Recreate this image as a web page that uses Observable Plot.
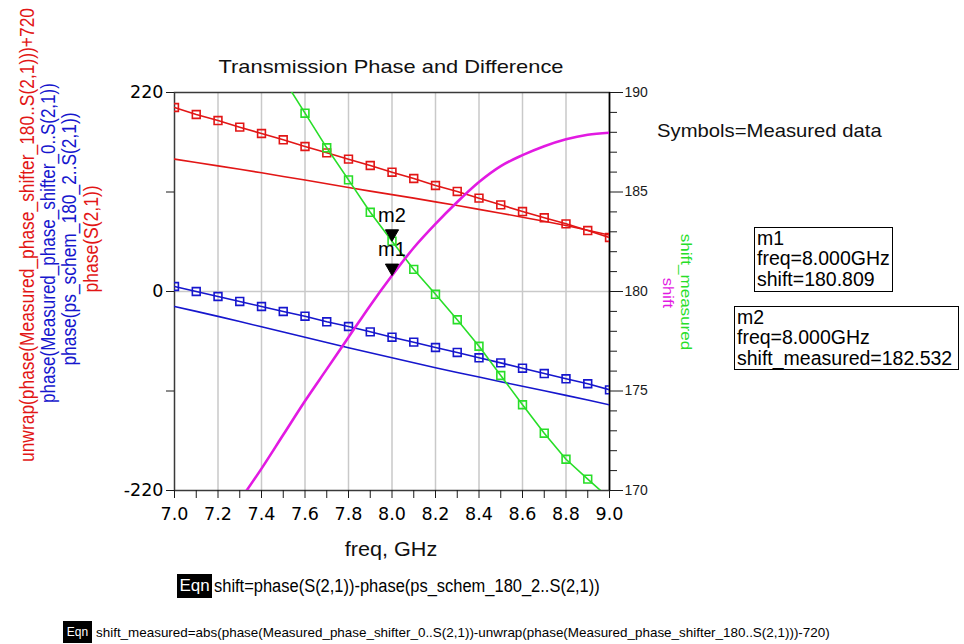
<!DOCTYPE html>
<html>
<head>
<meta charset="utf-8">
<script src="https://cdn.jsdelivr.net/npm/d3@7"></script>
<script src="https://cdn.jsdelivr.net/npm/@observablehq/plot@0.6"></script>
<style>
  html, body { margin: 0; padding: 0; background: #fff; }
  #wrap { position: relative; width: 964px; height: 644px; overflow: hidden; font-family: "Liberation Sans", Arial, sans-serif; }
  #wrap svg { position: absolute; left: 0; top: 0; }
  .lbl { position: absolute; white-space: nowrap; line-height: 1; }
  .box { position: absolute; border: 1px solid #000; background: #fff; font-size: 19.5px; line-height: 20.3px; padding-left: 2px; box-sizing: border-box; color: #000; }
  .eqn { position: absolute; background: #000; color: #fff; text-align: center; overflow: hidden; }
</style>
</head>
<body>
<div id="wrap"></div>
<script>
// ---------- data ----------
const freq = [7.0, 7.1, 7.2, 7.3, 7.4, 7.5, 7.6, 7.7, 7.8, 7.9, 8.0, 8.1, 8.2, 8.3, 8.4, 8.5, 8.6, 8.7, 8.8, 8.9, 9.0];
// unwrap(phase(Measured_phase_shifter_180..S(2,1)))+720  (red, symbols)
const measured180 = [203.4, 195.7, 189.0, 181.7, 174.7, 167.7, 160.3, 153.3, 146.3, 139.3, 131.9, 124.9, 117.2, 110.6, 103.2, 95.8, 88.4, 81.5, 74.8, 67.4, 59.7];
// phase(S(2,1))  (red line)
const simS21 = [146.3, 142.6, 138.9, 135.1, 131.2, 127.2, 123.2, 119.2, 115.0, 111.0, 107.1, 103.2, 99.1, 95.0, 90.8, 86.6, 82.1, 77.6, 73.0, 67.8, 62.3];
// phase(Measured_phase_shifter_0..S(2,1))  (blue, symbols)
const measured0 = [5.5, 0.0, -5.5, -11.0, -16.6, -22.1, -27.3, -33.5, -38.7, -44.6, -50.5, -56.0, -61.9, -67.4, -73.3, -78.9, -84.8, -90.7, -96.5, -102.0, -108.7];
// phase(ps_schem_180_2..S(2,1))  (blue line)
const simSchem = [-16.6, -22.0, -27.5, -33.2, -39.0, -44.8, -50.6, -56.4, -62.1, -67.8, -73.3, -78.8, -84.2, -89.5, -94.6, -99.7, -104.8, -109.8, -114.8, -120.0, -125.3];
// shift_measured (green, right axis, symbols)
const shiftMeasFreq = [7.5, 7.6, 7.7, 7.8, 7.9, 8.0, 8.1, 8.2, 8.3, 8.4, 8.5, 8.6, 8.7, 8.8, 8.9, 9.0];
const shiftMeasured = [190.7, 188.96, 187.22, 185.61, 183.98, 182.53, 181.11, 179.86, 178.58, 177.25, 175.78, 174.31, 172.88, 171.57, 170.57, 169.6];
// shift (magenta, right axis)
const shiftFreq = [7.3, 7.4, 7.5, 7.6, 7.7, 7.8, 7.9, 8.0, 8.1, 8.2, 8.3, 8.4, 8.5, 8.6, 8.7, 8.8, 8.9, 9.0];
const shift = [169.5, 171.1, 172.8, 174.5, 176.1, 177.7, 179.3, 180.8, 182.2, 183.4, 184.5, 185.5, 186.3, 186.85, 187.3, 187.65, 187.88, 187.98];
// markers
const markerNames = ["m1", "m2"];
const markerFreq = [8.0, 8.0];
const markerValue = [180.809, 182.532];
const markerSeries = ["shift", "shift_measured"];
// ticks
const leftTicks = [-220, -110, 0, 110, 220];
const leftTickLabels = ["-220", "", "0", "", "220"];
const rightMajorTicks = [170, 175, 180, 185, 190];
const rightMinorTicks = [171, 172, 173, 174, 176, 177, 178, 179, 181, 182, 183, 184, 186, 187, 188, 189];
const xMinorTicks = [7.1, 7.3, 7.5, 7.7, 7.9, 8.1, 8.3, 8.5, 8.7, 8.9];
const xMajorTicks = [7.0, 7.2, 7.4, 7.6, 7.8, 8.0, 8.2, 8.4, 8.6, 8.8, 9.0];
const xGrid = [7.2, 7.4, 7.6, 7.8, 8.0, 8.2, 8.4, 8.6, 8.8];

// ---------- colours ----------
const RED = "rgb(226,22,22)", BLUE = "rgb(22,22,205)", GREEN = "rgb(40,222,40)", MAG = "rgb(226,26,226)";

// right axis (170..190) mapped onto left scale (-220..220)
const R = v => (v - 180) * 22;
const Rinv = y => y / 22 + 180;

const left = freq.map((f, i) => ({f, m180: measured180[i], s21: simS21[i], m0: measured0[i], sch: simSchem[i]}));
const green = shiftMeasFreq.map((f, i) => ({f, v: R(shiftMeasured[i])}));
const mag = shiftFreq.map((f, i) => ({f, v: R(shift[i])}));
const markers = markerNames.map((n, i) => ({n, f: markerFreq[i], v: R(markerValue[i]), s: markerSeries[i]}));

const TICKFONT = "'DejaVu Sans', 'Liberation Sans', sans-serif";

const chart = Plot.plot({
  width: 964, height: 644,
  marginLeft: 174, marginRight: 355, marginTop: 92, marginBottom: 154,
  x: {type: "linear", domain: [7.0, 9.0]},
  y: {type: "linear", domain: [-220, 220]},
  style: {fontFamily: "'Liberation Sans', Arial, sans-serif", color: "#1a1a1a", background: "transparent", overflow: "visible"},
  marks: [
    Plot.gridX(xGrid, {stroke: "#c9c9c9", strokeOpacity: 1, strokeWidth: 1.5}),
    Plot.ruleY([0], {stroke: "#c9c9c9", strokeWidth: 1.5}),
    Plot.frame({stroke: "#3a3a3a", strokeWidth: 1.5}),
    Plot.ruleX([9.0], {stroke: "#000", strokeWidth: 1.5}),
    Plot.axisY(leftTicks, {anchor: "left", tickSize: 8, tickPadding: 3, fontSize: 17.5, fontFamily: TICKFONT, fill: "#000", label: null,
      tickFormat: d => leftTickLabels[leftTicks.indexOf(d)]}),
    Plot.axisY(rightMajorTicks.map(R), {anchor: "right", tickSize: 13, tickPadding: 2, fontSize: 14, label: null,
      tickFormat: d => String(Math.round(Rinv(d)))}),
    Plot.axisY(rightMinorTicks.map(R), {anchor: "right", tickSize: 7, label: null, tickFormat: () => ""}),
    Plot.axisX(xMinorTicks, {anchor: "bottom", tickSize: 8, label: null, tickFormat: () => ""}),
    Plot.axisX(xMajorTicks, {anchor: "bottom", tickSize: 8, tickPadding: 9, fontSize: 17.5, fontFamily: TICKFONT, fill: "#000", label: null,
      tickFormat: d => d.toFixed(1)}),
    // simulated lines
    Plot.line(left, {x: "f", y: "s21", stroke: RED, strokeWidth: 1.6, clip: true}),
    Plot.line(left, {x: "f", y: "sch", stroke: BLUE, strokeWidth: 1.6, clip: true}),
    // measured with symbols
    Plot.line(left, {x: "f", y: "m180", stroke: RED, strokeWidth: 1.6, clip: true}),
    Plot.dot(left, {x: "f", y: "m180", symbol: "square", r: 4.4, stroke: RED, strokeWidth: 1.6, fill: "none", clip: true}),
    Plot.line(left, {x: "f", y: "m0", stroke: BLUE, strokeWidth: 1.6, clip: true}),
    Plot.dot(left, {x: "f", y: "m0", symbol: "square", r: 4.4, stroke: BLUE, strokeWidth: 1.6, fill: "none", clip: true}),
    Plot.line(green, {x: "f", y: "v", stroke: GREEN, strokeWidth: 1.6, clip: true}),
    Plot.dot(green, {x: "f", y: "v", symbol: "square", r: 4.4, stroke: GREEN, strokeWidth: 1.6, fill: "none", clip: true}),
    Plot.line(mag, {x: "f", y: "v", stroke: MAG, strokeWidth: 2.6, curve: "monotone-x", clip: true}),
    // markers
    Plot.dot(markers, {x: "f", y: "v", symbol: "triangle", rotate: 180, r: 4.9, fill: "#000", stroke: "#000", strokeWidth: 1, dy: -7.5}),
    Plot.text(markers, {x: "f", y: "v", text: "n", dy: -26, fontSize: 20, fill: "#000"})
  ]
});

const wrap = document.getElementById("wrap");
wrap.appendChild(chart);

// ---------- text annotations ----------
function place(text, o) {
  const el = document.createElement("div");
  el.className = "lbl";
  el.textContent = text;
  el.style.fontSize = o.size + "px";
  el.style.color = o.color || "#111";
  el.style.left = o.x + "px";
  el.style.top = o.y + "px";
  wrap.appendChild(el);
  const s = o.w ? o.w / el.offsetWidth : 1;
  if (o.anchor === "start") {
    el.style.transformOrigin = "0 50%";
    el.style.transform = `translate(0,-50%) scaleX(${s})`;
  } else {
    el.style.transform = `translate(-50%,-50%) rotate(${o.rot || 0}deg) scaleX(${s})`;
  }
  return el;
}

place("Transmission Phase and Difference", {x: 391, y: 66, size: 19, w: 345});
place("freq, GHz", {x: 391, y: 550, size: 19.5, w: 92});
place("Symbols=Measured data", {x: 657, y: 130, size: 19, anchor: "start", w: 225});

// left axis labels (rotated)
place("unwrap(phase(Measured_phase_shifter_180..S(2,1)))+720", {x: 27, y: 235, size: 20, rot: -90, color: RED, w: 454});
place("phase(Measured_phase_shifter_0..S(2,1))", {x: 47.5, y: 243, size: 20, rot: -90, color: BLUE, w: 320});
place("phase(ps_schem_180_2..S(2,1))", {x: 69, y: 238.5, size: 20, rot: -90, color: BLUE, w: 253});
place("phase(S(2,1))", {x: 90.5, y: 238.5, size: 20, rot: -90, color: RED, w: 107});

// right axis labels
place("shift_measured", {x: 686, y: 291.5, size: 15, rot: 90, color: GREEN, w: 117});
place("shift", {x: 667.5, y: 292.5, size: 15, rot: 90, color: MAG, w: 31});

// marker readout boxes
function box(lines, x, y, w, h) {
  const b = document.createElement("div");
  b.className = "box";
  b.style.left = x + "px"; b.style.top = y + "px";
  b.style.width = w + "px"; b.style.height = h + "px";
  lines.forEach(t => { const d = document.createElement("div"); d.textContent = t; d.style.whiteSpace = "nowrap"; b.appendChild(d); });
  wrap.appendChild(b);
}
box([markerNames[0], `freq=${markerFreq[0].toFixed(3)}GHz`, `${markerSeries[0]}=${markerValue[0].toFixed(3)}`], 754, 227, 139, 65);
box([markerNames[1], `freq=${markerFreq[1].toFixed(3)}GHz`, `${markerSeries[1]}=${markerValue[1].toFixed(3)}`], 734, 306, 225, 64);

// equations
function eqn(x, y, w, h, size) {
  const e = document.createElement("div");
  e.className = "eqn";
  e.style.left = x + "px"; e.style.top = y + "px";
  e.style.width = w + "px"; e.style.height = h + "px";
  e.style.fontSize = size + "px"; e.style.lineHeight = h + "px";
  e.textContent = "Eqn";
  wrap.appendChild(e);
}
eqn(177, 574, 35, 24, 17);
place("shift=phase(S(2,1))-phase(ps_schem_180_2..S(2,1))", {x: 214, y: 586, size: 18, anchor: "start", w: 386, color: "#000"});
eqn(63, 621, 29, 22, 12);
place("shift_measured=abs(phase(Measured_phase_shifter_0..S(2,1))-unwrap(phase(Measured_phase_shifter_180..S(2,1)))-720)", {x: 96, y: 632, size: 13, anchor: "start", w: 734, color: "#000"});
</script>
</body>
</html>
